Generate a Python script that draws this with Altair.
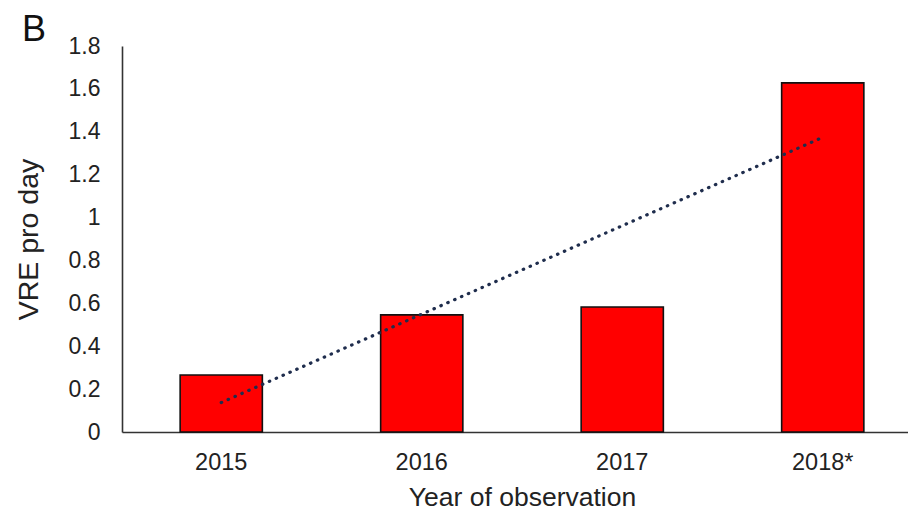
import altair as alt
import numpy as np
import pandas as pd

years = ["2015", "2016", "2017", "2018*"]
vre_per_day = [0.266, 0.546, 0.583, 1.628]

# linear trend fitted from the bar values (as a spreadsheet trendline would do)
idx = np.arange(len(years))
slope, intercept = np.polyfit(idx, vre_per_day, 1)
trend = list(intercept + slope * idx)

df = pd.DataFrame({"year": years, "vre": vre_per_day, "trend": trend})

FONT = "Liberation Sans"

x_enc = alt.X(
    "year:N",
    sort=years,
    scale=alt.Scale(range=[0, 800], paddingInner=0.59, paddingOuter=0.29),
    axis=alt.Axis(
        title="Year of observation",
        labelAngle=0,
        labelFontSize=23.5,
        titleFontSize=26.5,
        labelPadding=18,
        titlePadding=11,
        ticks=False,
    ),
)

bars = alt.Chart(df).mark_bar(
    color="#FF0000", stroke="#111111", strokeWidth=1.6
).encode(
    x=x_enc,
    y=alt.Y(
        "vre:Q",
        scale=alt.Scale(domain=[0, 1.8], nice=False),
        axis=alt.Axis(
            title="VRE pro day",
            values=[0, 0.2, 0.4, 0.6, 0.8, 1, 1.2, 1.4, 1.6, 1.8],
            format="~g",
            labelFontSize=23,
            titleFontSize=28.5,
            labelPadding=22,
            titlePadding=25,
            ticks=False,
            grid=False,
        ),
    ),
)

line = alt.Chart(df).mark_line(
    color="#1F2D4D", strokeWidth=3.2, strokeDash=[0.5, 7], strokeCap="round"
).encode(
    x=alt.X("year:N", sort=years),
    y=alt.Y("trend:Q"),
)

chart = (
    alt.layer(bars, line)
    .properties(
        width=786,
        height=386,
        autosize="none",
        padding={"left": 114, "top": 38, "right": 0, "bottom": 81},
        title=alt.TitleParams(
            "B",
            anchor="start",
            frame="group",
            dx=-100,
            dy=16,
            offset=2,
            fontSize=36,
            fontWeight="normal",
            font=FONT,
            color="#111111",
        ),
    )
    .configure_view(stroke=None)
    .configure_axis(
        labelFont=FONT,
        titleFont=FONT,
        labelColor="#222222",
        titleColor="#222222",
        titleFontWeight="normal",
        domainColor="#333333",
        domainWidth=1.6,
        grid=False,
    )
)

chart.save("out.html", embed_options={"renderer": "svg", "actions": False})
